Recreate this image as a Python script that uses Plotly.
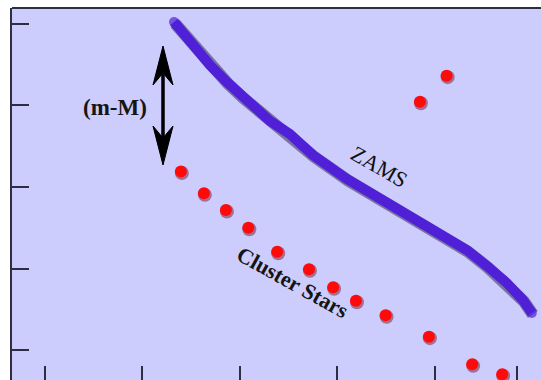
import plotly.graph_objects as go

# ---- data (x: colour-like units, y: magnitude-like units, y increases downward) ----
star_x = [0.697, 0.815, 0.928, 1.043, 1.191, 1.354, 1.478, 1.595, 1.747, 1.969, 2.191, 2.345, 1.923, 2.060]
star_y = [9.05, 10.39, 11.41, 12.50, 13.97, 15.05, 16.15, 16.98, 17.87, 19.18, 20.88, 21.49, 4.77, 3.17]

zams_x = [0.662, 0.708, 0.759, 0.846, 0.933, 1.015, 1.103, 1.154, 1.256, 1.374, 1.549,
          1.718, 1.872, 1.990, 2.164, 2.267, 2.369, 2.451, 2.497]
zams_y = [-0.12, 0.55, 1.29, 2.52, 3.56, 4.48, 5.34, 5.95, 6.75, 8.04, 9.51,
          10.74, 11.72, 12.58, 13.87, 14.85, 15.89, 16.93, 17.73]

x_ticks = [0.0, 0.5, 1.0, 1.5, 2.0, 2.42]
y_ticks = [0, 5, 10, 15, 20]

# ---- scales ----
X_RANGE = [-0.169, 2.544]
Y_RANGE = [21.84, -0.98]          # reversed (brighter on top)
PX_X = 529 / (X_RANGE[1] - X_RANGE[0])
PX_Y = 372 / (Y_RANGE[0] - Y_RANGE[1])
X0_PX, Y0_PX = 12, 8


def px2x(p):
    return X_RANGE[0] + (p - X0_PX) / PX_X


def py2y(p):
    return Y_RANGE[1] + (p - Y0_PX) / PX_Y


AXC = "#2e2e40"
ZAMS_C = "#5020d8"
BG = "#ccccfd"

SDX, SDY = 1.0 / PX_X, 1.5 / PX_Y   # shadow offset in data units

fig = go.Figure()

# shadows (x2/y2 overlay, shifted)
fig.add_trace(go.Scatter(x=zams_x, y=zams_y, mode="lines", xaxis="x2", yaxis="y2",
                         line=dict(color="rgba(20,10,50,0.45)", width=12),
                         hoverinfo="skip"))
fig.add_trace(go.Scatter(x=star_x, y=star_y, mode="markers", xaxis="x2", yaxis="y2",
                         marker=dict(color="rgba(110,0,20,0.45)", size=14, line=dict(width=0)),
                         hoverinfo="skip"))

# main marks (x3/y3 overlay, same scale as base)
end_sizes = [10] + [0] * (len(zams_x) - 2) + [10]
fig.add_trace(go.Scatter(x=zams_x, y=zams_y, mode="lines+markers", xaxis="x3", yaxis="y3",
                         line=dict(color=ZAMS_C, width=10),
                         marker=dict(color=ZAMS_C, size=end_sizes, line=dict(width=0)),
                         name="ZAMS"))
fig.add_trace(go.Scatter(x=star_x, y=star_y, mode="markers", xaxis="x3", yaxis="y3",
                         marker=dict(color="#ff0a0a", size=12, line=dict(width=0)),
                         name="Cluster Stars"))

shapes = [
    # top border
    dict(type="line", xref="paper", yref="paper", x0=0, x1=1, y0=1, y1=1,
         line=dict(color=AXC, width=2), layer="above"),
    # arrow shaft
    dict(type="line", xref="x", yref="y", x0=px2x(163), x1=px2x(163), y0=py2y(62), y1=py2y(150),
         line=dict(color="black", width=3.5), layer="above"),
    # top head
    dict(type="path", xref="x", yref="y", layer="above",
         path=f"M{px2x(163)},{py2y(46)} L{px2x(173)},{py2y(85)} L{px2x(163)},{py2y(73)} "
              f"L{px2x(153)},{py2y(85)} Z",
         fillcolor="black", line=dict(color="black", width=1)),
    # bottom head
    dict(type="path", xref="x", yref="y", layer="above",
         path=f"M{px2x(163)},{py2y(165)} L{px2x(173)},{py2y(126)} L{px2x(163)},{py2y(138)} "
              f"L{px2x(153)},{py2y(126)} Z",
         fillcolor="black", line=dict(color="black", width=1)),
]

FONT = "Liberation Serif, Times New Roman, serif"
annotations = [
    dict(x=px2x(114.5), y=py2y(107), xref="x", yref="y", text="<b>(m-M)</b>", showarrow=False,
         font=dict(family=FONT, size=23, color="#151515"), xanchor="center", yanchor="middle"),
    dict(x=px2x(379), y=py2y(166), xref="x", yref="y", text="ZAMS", showarrow=False, textangle=30,
         font=dict(family=FONT, size=22, color="#101010"), xanchor="center", yanchor="middle"),
    dict(x=px2x(293), y=py2y(282), xref="x", yref="y", text="<b>Cluster Stars</b>", showarrow=False,
         textangle=29, font=dict(family=FONT, size=22, color="#151515"),
         xanchor="center", yanchor="middle"),
]

fig.update_layout(
    width=541, height=380,
    margin=dict(l=12, r=0, t=8, b=0, pad=0),
    paper_bgcolor="white", plot_bgcolor=BG,
    showlegend=False,
    xaxis=dict(range=X_RANGE, tickvals=x_ticks, ticks="inside", ticklen=14, tickwidth=2,
               tickcolor=AXC, showticklabels=False, showgrid=False, zeroline=False,
               showline=False, fixedrange=True),
    yaxis=dict(range=Y_RANGE, tickvals=y_ticks, ticks="inside", ticklen=17, tickwidth=2,
               tickcolor=AXC, showticklabels=False, showgrid=False, zeroline=False,
               showline=True, linewidth=2, linecolor=AXC, fixedrange=True),
    xaxis2=dict(overlaying="x", range=[X_RANGE[0] - SDX, X_RANGE[1] - SDX], visible=False),
    yaxis2=dict(overlaying="y", range=[Y_RANGE[0] - SDY, Y_RANGE[1] - SDY], visible=False),
    xaxis3=dict(overlaying="x", range=X_RANGE, visible=False),
    yaxis3=dict(overlaying="y", range=Y_RANGE, visible=False),
    shapes=shapes,
    annotations=annotations,
)

fig.write_html("out.html", config={"displayModeBar": False},
               post_script="document.body.style.margin='0';document.body.style.overflow='hidden';")
